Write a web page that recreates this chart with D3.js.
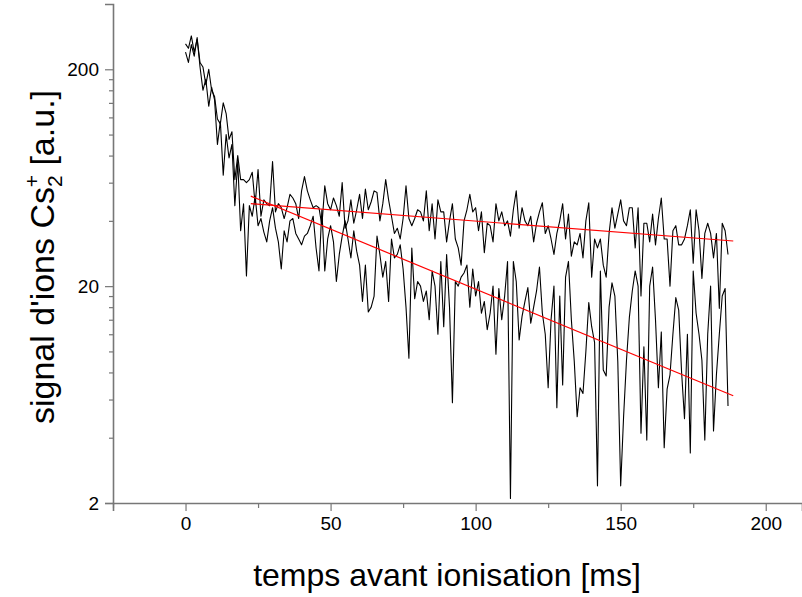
<!DOCTYPE html>
<html>
<head>
<meta charset="utf-8">
<script src="https://cdn.jsdelivr.net/npm/d3@7"></script>
<style>
  body { margin: 0; background: #fff; }
  svg { display: block; font-family: "Liberation Sans", Arial, sans-serif; }
</style>
</head>
<body>
<div id="chart"></div>
<script>
// sampling grid: one point per ms, 0 .. 187 ms
var times = d3.range(0, 188);

// upper trace (slow decay)
var signalSlow = [
  262, 250, 285, 240, 275, 215, 205, 170, 200, 160,
  150, 118, 112, 140, 125, 95, 103, 62, 80, 62,
  62, 60, 62, 67, 47.5, 69, 42, 50, 48, 47,
  75, 44, 48, 46, 41, 46, 53, 51, 48, 41,
  55, 64, 55, 50, 46, 47, 46, 38, 58, 48,
  45, 51, 47, 42, 60, 37, 40, 50, 39, 45,
  53, 41, 56, 45, 49, 55, 54, 40, 48, 62,
  50, 42, 35, 37, 33, 41, 58, 41, 38, 41,
  45, 44, 40, 55, 36, 48, 33, 50, 44, 44,
  32, 40, 48, 33, 30, 25, 40, 45, 53, 44,
  46, 36, 44, 28.5, 39, 38, 32, 48, 40, 44,
  38, 40, 34, 45, 55, 37, 46, 40, 38, 42,
  32, 39, 44, 48.5, 35, 38, 33, 28, 35, 40,
  48, 33, 43, 27.5, 32, 31, 35,
  27, 40, 48.5, 22, 33, 30, 33, 25, 22, 35,
  46, 37, 43, 50, 40, 38, 46, 46, 30, 46,
  18, 39, 39, 32, 43, 31, 41, 51, 33, 33,
  20, 36, 38, 31, 31, 33, 38, 45, 25.5, 45,
  36, 21.7, 35, 39, 35, 27, 35, 15.8, 39, 36,
  28
];

// lower trace (fast decay)
var signalFast = [
  240, 215, 260, 230, 280, 205, 160, 180, 135, 165,
  145, 90, 115, 65, 100, 78, 90, 47, 75, 36,
  48, 22.3, 47, 42, 52, 38, 41, 35.5, 32, 40,
  46, 37, 32, 24, 36, 32, 40, 41, 35, 33,
  31, 34, 35, 38, 42, 30, 23.5, 45, 23.5, 33,
  38, 32, 21, 28, 34, 40, 33, 27, 36, 29,
  25, 17, 25, 15.2, 16, 18, 34, 28, 22, 26,
  17, 33, 27, 28, 31, 24, 16, 9.3, 30, 17.5,
  21, 20, 17, 19, 14, 23.5, 20, 12, 26, 13,
  28, 16, 5.8, 21, 20, 22, 23, 25, 16, 24,
  18, 21, 15, 17, 12.6, 15, 20, 9.7, 19.5, 14,
  18, 26, 2.1, 26, 21, 11.3, 14.5, 17, 19.7, 13.5,
  16, 19, 24.5, 15, 12, 6.8, 14, 20, 5.5, 18,
  7, 22, 26, 14, 9, 5, 6.8,
  6.4, 10, 16.8, 13, 11, 2.4, 23.5, 8.2, 7.7, 16,
  20.7, 18, 9, 2.4, 5, 9.1, 14.4, 19, 23.5, 20,
  4.2, 10.5, 3.9, 20, 24.5, 14, 6.8, 12.3, 3.6, 6.7,
  7.8, 12, 17.7, 15.5, 8, 4.9, 12, 3.4, 23.5, 15,
  12, 9.1, 3.9, 12, 20, 4.3, 7.8, 12, 18, 19.5,
  5.6
];

// exponential fits (straight on the log axis)
var fitTimes = [22.5, 188.8];
var fitSlow = [48, 32.3];
var fitFast = [52, 6.25];

var xTicks = [0, 50, 100, 150, 200];
var xMinorTicks = [-25, 25, 75, 125, 175];
var yTicks = [2, 20, 200];
var yMinorTicks = [4, 6, 8, 10, 12, 14, 16, 18, 40, 60, 80, 100, 120, 140, 160, 180];

function drawChart() {
  var W = 802, H = 597;
  var plotLeft = 113, plotRight = 802, plotTop = 4, plotBottom = 503;

  var svg = d3.select("#chart")
    .append("svg")
      .attr("width", W)
      .attr("height", H);

  var x = d3.scaleLinear()
    .domain([-25, 212.5])
    .range([plotLeft, plotRight]);

  var y = d3.scaleLog()
    .domain([2, 400])
    .range([plotBottom, plotTop]);

  var axisColor = "#777";

  // x axis
  var gx = svg.append("g").attr("transform", "translate(0," + plotBottom + ")");
  gx.call(d3.axisBottom(x).tickValues(xTicks).tickSize(8).tickPadding(6).tickFormat(d3.format("d")));
  var gxm = svg.append("g").attr("transform", "translate(0," + plotBottom + ")");
  gxm.call(d3.axisBottom(x).tickValues(xMinorTicks).tickSize(5).tickFormat(""));
  gxm.select(".domain").remove();

  // y axis
  var gy = svg.append("g").attr("transform", "translate(" + plotLeft + ",0)");
  gy.call(d3.axisLeft(y).tickValues(yTicks).tickSize(8).tickPadding(6).tickFormat(d3.format("d")));
  var gym = svg.append("g").attr("transform", "translate(" + plotLeft + ",0)");
  gym.call(d3.axisLeft(y).tickValues(yMinorTicks).tickSize(4).tickFormat(""));
  gym.select(".domain").remove();

  svg.selectAll(".domain").attr("stroke", axisColor).attr("stroke-width", 1.6);
  svg.selectAll(".tick line").attr("stroke", axisColor).attr("stroke-width", 1.2);
  svg.selectAll(".tick text")
    .attr("fill", "#000")
    .style("font-size", "19px")
    .style("font-family", "'Liberation Sans', Arial, sans-serif");

  // traces
  var line = d3.line()
    .x(function(d) { return x(d[0]); })
    .y(function(d) { return y(d[1]); });

  [signalSlow, signalFast].forEach(function(s) {
    svg.append("path")
      .datum(times.map(function(t, i) { return [t, s[i]]; }))
      .attr("d", line)
      .attr("fill", "none")
      .attr("stroke", "#000")
      .attr("stroke-width", 1.1)
      .attr("stroke-linejoin", "round");
  });

  // fit lines
  [fitSlow, fitFast].forEach(function(f) {
    svg.append("path")
      .datum(fitTimes.map(function(t, i) { return [t, f[i]]; }))
      .attr("d", line)
      .attr("fill", "none")
      .attr("stroke", "#ff0000")
      .attr("stroke-width", 1.2);
  });

  // axis titles
  svg.append("text")
    .attr("x", 447)
    .attr("y", 586)
    .attr("text-anchor", "middle")
    .style("font-size", "32px")
    .text("temps avant ionisation [ms]");

  var yt = svg.append("text")
    .attr("transform", "translate(54,257) rotate(-90)")
    .attr("text-anchor", "middle")
    .style("font-size", "34px");
  yt.append("tspan").text("signal d'ions Cs");
  yt.append("tspan").attr("dy", 8).style("font-size", "21px").text("2");
  yt.append("tspan").attr("dx", -12).attr("dy", -23).style("font-size", "21px").text("+");
  yt.append("tspan").attr("dy", 15).text(" [a.u.]");
}

drawChart();
</script>
</body>
</html>
